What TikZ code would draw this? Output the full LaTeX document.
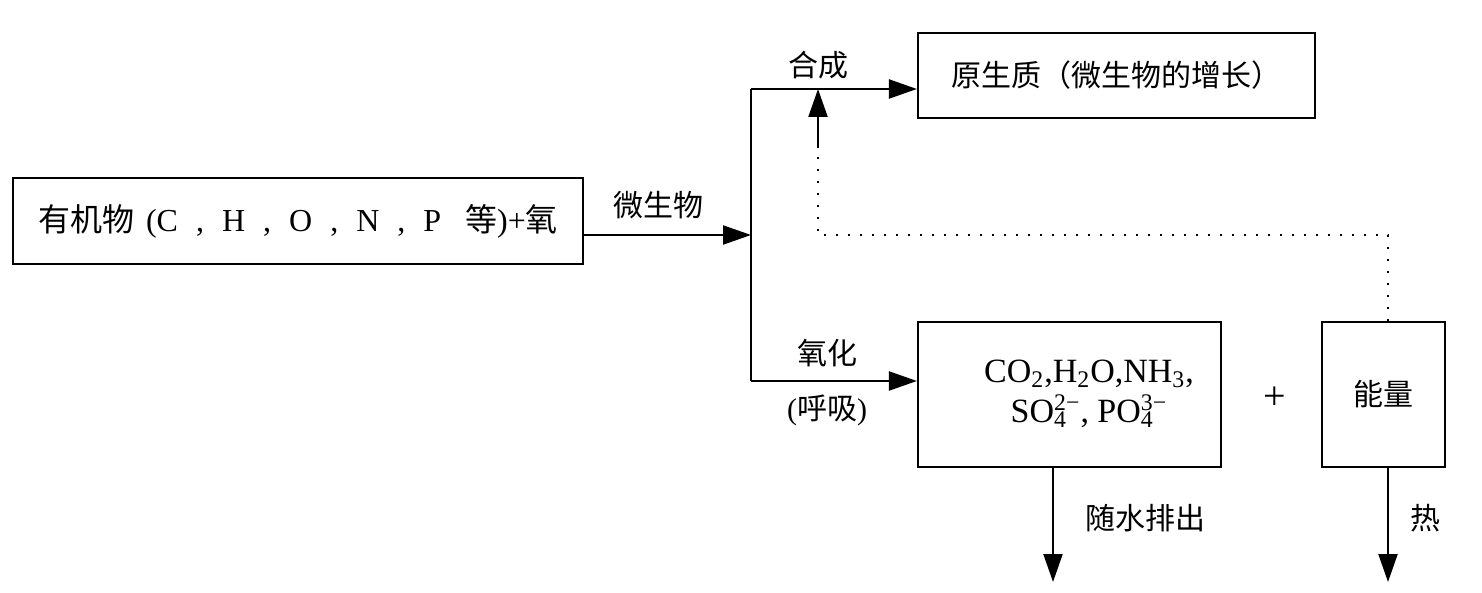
\documentclass[tikz,border=0pt]{standalone}
\usepackage{fontspec}
\setmainfont{Liberation Serif}
\newfontfamily\cjk{Noto Sans CJK SC}
\usetikzlibrary{arrows.meta}
\newcommand{\ionsub}[2]{\rlap{\textsubscript{#1}}\textsuperscript{#2}}
\newcommand{\sep}{\hspace{9pt},\hspace{9pt}}

\begin{document}
\begin{tikzpicture}[x=0.5pt,y=0.5pt,yscale=-1,xscale=1,
  line width=1.1pt,
  box/.style={draw,line width=1.1pt,inner sep=0pt,align=center},
  lbl/.style={inner sep=0.75pt,font=\cjk},
  flow/.style={-{Triangle[length=14pt,width=9.5pt]},line width=1.1pt},
  dotline/.style={line width=1pt,dash pattern={on 1pt off 5pt}}]
\useasboundingbox (0,0) rectangle (1482,593);
\fontsize{15pt}{18pt}\selectfont

%Shape: Rectangle [id:organic]
\node [box,minimum width=285pt,minimum height=43pt] (organic) at (298,221) {};
\node [inner sep=0pt,font=\fontsize{16pt}{18pt}\selectfont] (organictext) at (organic.center)
  {{\cjk 有机物}\hspace{6pt}(C\sep H\sep O\sep N\sep P\hspace{12pt}{\cjk 等})+{\cjk 氧}};
%Shape: Rectangle [id:proto]
\node [box,minimum width=198.5pt,minimum height=42.5pt,font=\cjk] (proto) at (1116.5,75.5)
  {原生质（微生物的增长）};
%Shape: Rectangle [id:products]
\node [box,minimum width=151.5pt,minimum height=72.5pt] (products) at (1069.5,394.5) {};
\node [inner sep=0pt,align=center,font=\fontsize{17pt}{20pt}\selectfont] (formulas) at (1089,394)
  {CO\textsubscript{2},H\textsubscript{2}O,NH\textsubscript{3},\\SO\ionsub{4}{2−}, PO\ionsub{4}{3−}};
%Shape: Rectangle [id:energy]
\node [box,minimum width=61.5pt,minimum height=72.5pt,font=\cjk] (energy) at (1383.5,394.5) {能量};

%Points
\coordinate (split) at (751,235);
\coordinate (top) at (751,89);
\coordinate (bottom) at (751,381);
\coordinate (feed) at (818,235);
\coordinate (feedtip) at (818,148);
\coordinate (feedend) at (818,89);
\coordinate (drain) at (1053,582);
\coordinate (heat) at (1388,582);

%Straight Lines [id:main]
\draw [flow] (organic.east |- split) -- (split);
\draw (top) -- (bottom);
\draw [flow] (top) -- (proto.west |- top);
\draw [flow] (bottom) -- (products.west |- bottom);
%Dotted Lines [id:feedback]
\draw [dotline] (energy.north -| heat) -- (feed -| heat) -- (feed) -- (feedtip);
\draw [flow] (feedtip) -- (feedend);
%Straight Lines [id:outflow]
\draw [flow] (products.south -| drain) -- (drain);
\draw [flow] (energy.south -| heat) -- (heat);

% Text Node
\node [lbl] (microbe) at (658,205) {微生物};
% Text Node
\node [lbl] (synth) at (818,65) {合成};
% Text Node
\node [lbl] (oxid) at (827,353) {氧化};
% Text Node
\node [inner sep=0.75pt] (resp) at (827,410) {({\cjk 呼吸})};
% Text Node
\node [inner sep=0.75pt,font=\fontsize{20pt}{20pt}\selectfont] (plus) at (1275,398) {+};
% Text Node
\node [lbl] (water) at (1145,518) {随水排出};
% Text Node
\node [lbl] (hot) at (1425,518) {热};

\end{tikzpicture}
\end{document}
